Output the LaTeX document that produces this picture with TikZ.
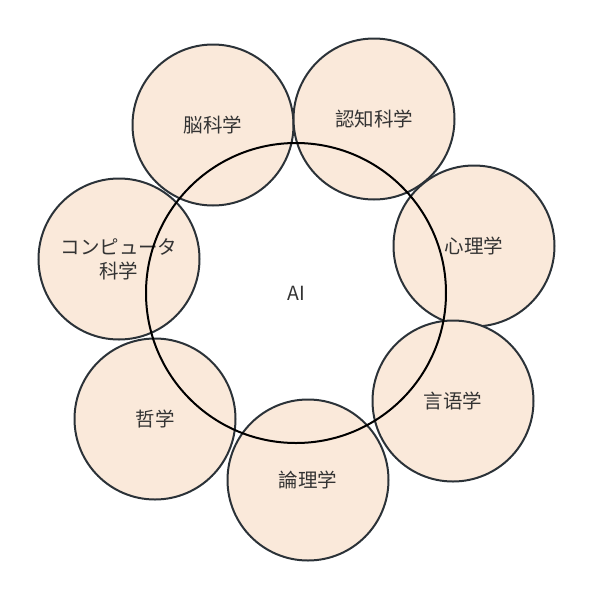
\documentclass[tikz,border=0pt]{standalone}
\usepackage{fontspec}
\setmainfont{Noto Sans CJK SC}
\usepackage{tikz}
\usetikzlibrary{positioning}
\usepackage{xcolor}
\definecolor{fieldfill}{HTML}{FAE9DA}
\definecolor{fieldline}{HTML}{2B3238}
\definecolor{labeltext}{HTML}{333333}

\begin{document}
\begin{tikzpicture}[
    x=1pt, y=-1pt,
    field/.style={circle, draw=fieldline, fill=fieldfill, line width=2pt, minimum size=161pt, inner sep=0pt, text=labeltext, font=\fontsize{19.5}{24}\selectfont, align=center},
    core/.style={circle, draw=black, line width=2pt, minimum size=300pt, inner sep=0pt, text=labeltext, font=\fontsize{19.5}{24}\selectfont}
]
\useasboundingbox (0,0) rectangle (592,598);

% Surrounding fields
\node[field] (brain) at (213,125) {脳科学};
\node[field] (cogn) at (374,119) {認知科学};
\node[field] (psych) at (474,246) {心理学};
\node[field] (ling) at (453,401) {言语学};
\node[field] (logic) at (308,480) {論理学};
\node[field] (phil) at (155,419) {哲学};
\node[field] (comp) at (119,259) {コンピュータ\\科学};

% AI ring on top
\node[core] (ai) at (296,293) {AI};

\end{tikzpicture}
\end{document}
